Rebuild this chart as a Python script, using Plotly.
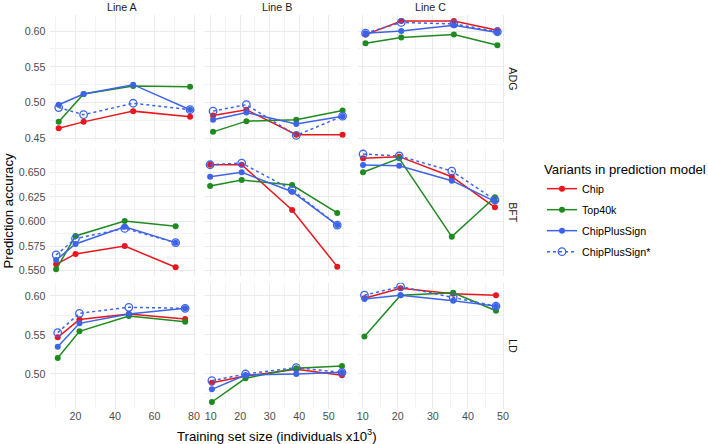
import plotly.graph_objects as go

# ---------------- data ----------------
lines = ["Line A", "Line B", "Line C"]
traits = ["ADG", "BFT", "LD"]
variants = ["Chip", "Top40k", "ChipPlusSign", "ChipPlusSign*"]

# training set size (x10^3), 4 points per line: Line A, Line B, Line C
size_adg = [11.5, 24.1, 49.2, 78.0, 10.8, 22.1, 39.0, 54.7, 10.8, 21.0, 36.0, 48.4]
size_bft = [10.2, 20.0, 44.9, 70.7, 9.8, 20.5, 37.6, 52.9, 10.1, 20.4, 35.4, 47.7]
size_ld = [11.0, 22.0, 47.0, 75.5, 10.4, 21.8, 39.0, 54.5, 10.5, 20.8, 35.8, 48.0]

chip_adg = [0.464, 0.473, 0.488, 0.480, 0.482, 0.490, 0.455, 0.455, 0.595, 0.614, 0.614, 0.601]
top_adg = [0.473, 0.512, 0.523, 0.522, 0.459, 0.474, 0.476, 0.489, 0.583, 0.591, 0.595, 0.580]
cps_adg = [0.497, 0.512, 0.525, 0.490, 0.476, 0.486, 0.470, 0.481, 0.597, 0.600, 0.608, 0.598]
cpss_adg = [0.493, 0.483, 0.499, 0.490, 0.488, 0.497, 0.454, 0.481, 0.597, 0.612, 0.610, 0.599]

chip_bft = [0.5565, 0.567, 0.575, 0.5535, 0.6577, 0.6577, 0.6117, 0.5541, 0.6642, 0.6659, 0.6455, 0.6144]
top_bft = [0.5514, 0.5853, 0.6005, 0.5951, 0.6361, 0.6422, 0.6371, 0.6087, 0.650, 0.6642, 0.5846, 0.6246]
cps_bft = [0.5609, 0.5771, 0.5947, 0.5785, 0.6456, 0.650, 0.6303, 0.5964, 0.6574, 0.6567, 0.6415, 0.6205]
cpss_bft = [0.566, 0.5826, 0.593, 0.5785, 0.6577, 0.6594, 0.632, 0.5964, 0.6686, 0.6666, 0.6513, 0.6219]

chip_ld = [0.547, 0.570, 0.577, 0.5705, 0.4889, 0.4974, 0.506, 0.4983, 0.597, 0.610, 0.603, 0.601]
top_ld = [0.5205, 0.5547, 0.5744, 0.5671, 0.4641, 0.4945, 0.5073, 0.5103, 0.548, 0.601, 0.604, 0.581]
cps_ld = [0.535, 0.5649, 0.5769, 0.5842, 0.4803, 0.4987, 0.500, 0.5021, 0.596, 0.601, 0.594, 0.587]
cpss_ld = [0.553, 0.5778, 0.5855, 0.5842, 0.4914, 0.500, 0.5081, 0.502, 0.601, 0.612, 0.598, 0.587]

sizes = {"ADG": size_adg, "BFT": size_bft, "LD": size_ld}
acc = {
    "ADG": [chip_adg, top_adg, cps_adg, cpss_adg],
    "BFT": [chip_bft, top_bft, cps_bft, cpss_bft],
    "LD": [chip_ld, top_ld, cps_ld, cpss_ld],
}

# ---------------- style ----------------
W, H = 708, 444
FONT = "Liberation Sans, Arial, sans-serif"
SMALL = 10.7
BIG = 13.2
colors = ["#E8161D", "#1F8A1F", "#3D63E6", "#3D63E6"]
col_px = [(49.5, 196.2), (203.5, 350.2), (357.5, 504.2)]
row_px = [(15.0, 141.6), (148.9, 275.5), (282.8, 409.4)]
x_ranges = [[6.84, 81.1], [7.56, 57.29], [8.52, 50.34]]
x_dtick = [20, 10, 10]
y_ranges = [[0.4454, 0.6224], [0.5451, 0.6738], [0.4546, 0.6169]]
y_dtick = [0.05, 0.025, 0.05]
y_fmt = [".2f", ".3f", ".2f"]
grid_major = "#EBEBEB"
grid_minor = "#F3F3F3"

fig = go.Figure()
layout = {}

for r, trait in enumerate(traits):
    for c, line in enumerate(lines):
        k = r * 3 + c + 1
        xa = "x" if k == 1 else f"x{k}"
        ya = "y" if k == 1 else f"y{k}"
        xs = sizes[trait][4 * c:4 * c + 4]
        for v, name in enumerate(variants):
            ys = acc[trait][v][4 * c:4 * c + 4]
            star = name.endswith("*")
            fig.add_trace(go.Scatter(
                x=xs, y=ys, xaxis=xa, yaxis=ya, name=name,
                legendgroup=name, showlegend=(k == 1),
                mode="lines+markers", hoverinfo="skip",
                line=dict(color=colors[v], width=1.5, dash="dot" if star else "solid"),
                marker=dict(
                    color=colors[v],
                    size=7.5 if star else 6,
                    symbol="circle-open" if star else "circle",
                    line=dict(color=colors[v], width=1.3 if star else 0),
                ),
            ))
        x0, x1 = col_px[c]
        y0, y1 = row_px[r]
        layout["xaxis" if k == 1 else f"xaxis{k}"] = dict(
            domain=[x0 / W, x1 / W], anchor=ya, range=x_ranges[c],
            tick0=0, dtick=x_dtick[c], showticklabels=(r == 2),
            ticks="", showline=False, zeroline=False, ticklabelstandoff=-1,
            showgrid=True, gridcolor=grid_major, gridwidth=1.1, showspikes=False,
            minor=dict(dtick=x_dtick[c] / 2, showgrid=True, gridcolor=grid_minor, gridwidth=0.8),
            tickfont=dict(family=FONT, size=SMALL, color="#4D4D4D"),
            automargin=False, fixedrange=True,
        )
        layout["yaxis" if k == 1 else f"yaxis{k}"] = dict(
            domain=[1 - y1 / H, 1 - y0 / H], anchor=xa, range=y_ranges[r],
            tick0=0, dtick=y_dtick[r], tickformat=y_fmt[r], showticklabels=(c == 0),
            ticks="", showline=False, zeroline=False, ticklabelstandoff=3,
            showgrid=True, gridcolor=grid_major, gridwidth=1.1, showspikes=False,
            minor=dict(dtick=y_dtick[r] / 2, showgrid=True, gridcolor=grid_minor, gridwidth=0.8),
            tickfont=dict(family=FONT, size=SMALL, color="#4D4D4D"),
            automargin=False, fixedrange=True,
        )

annotations = []
for c, line in enumerate(lines):
    x0, x1 = col_px[c]
    annotations.append(dict(text=line, x=(x0 + x1) / 2 / W, y=1 - 7 / H, xref="paper", yref="paper",
                            showarrow=False, font=dict(family=FONT, size=SMALL, color="#1A1A1A"),
                            xanchor="center", yanchor="middle"))
for r, trait in enumerate(traits):
    y0, y1 = row_px[r]
    annotations.append(dict(text=trait, x=513 / W, y=1 - (y0 + y1) / 2 / H, xref="paper", yref="paper",
                            showarrow=False, textangle=90,
                            font=dict(family=FONT, size=SMALL, color="#1A1A1A"),
                            xanchor="center", yanchor="middle"))
annotations.append(dict(text="Prediction accuracy", x=8.5 / W, y=1 - 211 / H, xref="paper", yref="paper",
                        showarrow=False, textangle=-90, font=dict(family=FONT, size=BIG, color="#000000"),
                        xanchor="center", yanchor="middle"))
annotations.append(dict(text="Training set size (individuals x10<sup>3</sup>)", x=277 / W, y=1 - 435.5 / H,
                        xref="paper", yref="paper", showarrow=False,
                        font=dict(family=FONT, size=BIG, color="#000000"),
                        xanchor="center", yanchor="middle"))

fig.update_layout(
    **layout,
    template="none",
    width=W, height=H,
    margin=dict(l=0, r=0, t=0, b=0),
    paper_bgcolor="white", plot_bgcolor="rgba(0,0,0,0)",
    font=dict(family=FONT),
    hovermode=False,
    annotations=annotations,
    legend=dict(
        x=542 / W, y=1 - 157 / H, xanchor="left", yanchor="top",
        title=dict(text="Variants in prediction model", font=dict(family=FONT, size=BIG, color="#000000")),
        font=dict(family=FONT, size=SMALL, color="#000000"),
        bgcolor="rgba(0,0,0,0)", borderwidth=0, tracegroupgap=2,
    ),
)

# remove the browser's default page margin so the figure sits at the window's top-left corner
fig.write_html(
    "out.html",
    config={"displayModeBar": False},
    post_script="document.body.style.margin='0';document.body.style.overflow='hidden';",
)
